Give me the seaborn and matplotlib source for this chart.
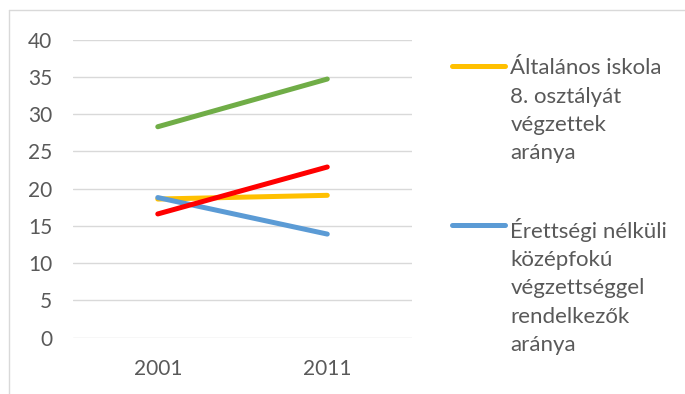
import matplotlib
matplotlib.use("Agg")
import matplotlib.pyplot as plt
from matplotlib.lines import Line2D
from matplotlib.offsetbox import HPacker
import seaborn as sns
import pandas as pd

# Years on the category axis
evek = ["2001", "2011"]

# Share of each educational group (%)
altalanos = [18.6, 19.1]
erettsegi_nelkuli = [18.8, 13.9]
zold_sor = [28.3, 34.7]
piros_sor = [16.6, 22.9]

sorozat_nevek = [
    "Általános iskola\n8. osztályát\nvégzettek\naránya",
    "Érettségi nélküli\nközépfokú\nvégzettséggel\nrendelkezők\naránya",
    "zold",
    "piros",
]
szinek = ["#FFC000", "#5B9BD5", "#70AD47", "#FF0000"]
y_tickek = [0, 5, 10, 15, 20, 25, 30, 35, 40]

sns.set_theme(style="white")
plt.rcParams["font.family"] = ["Lato", "DejaVu Sans"]

rows = []
for nev, ertekek in zip(sorozat_nevek, [altalanos, erettsegi_nelkuli, zold_sor, piros_sor]):
    for ev, v in zip(evek, ertekek):
        rows.append({"ev": ev, "ertek": v, "sorozat": nev})
df = pd.DataFrame(rows)

fig = plt.figure(figsize=(6.85, 3.94), dpi=100)
ax = fig.add_axes([0.1066, 0.1429, 0.4949, 0.7568])

sns.lineplot(data=df, x="ev", y="ertek", hue="sorozat", hue_order=sorozat_nevek,
             palette=szinek, linewidth=3.6, ax=ax, legend=False, sort=False)
for ln in ax.lines:
    ln.set_solid_capstyle("round")

ax.set_xlim(-0.5, 1.5)
ax.set_ylim(0, 40)
ax.set_yticks(y_tickek)
ax.set_yticklabels([str(t) for t in y_tickek])
ax.grid(axis="y", color="#D9D9D9", linewidth=1.0)
ax.set_axisbelow(True)
for s in ax.spines.values():
    s.set_visible(False)
ax.tick_params(axis="both", length=0, labelsize=15, colors="#595959")
ax.tick_params(axis="y", pad=15)
ax.tick_params(axis="x", pad=15)
ax.set_xlabel("")
ax.set_ylabel("")

# Legend lists only the first two series; handle sits at the first text line
handles = [Line2D([], [], color=szinek[i], linewidth=3.6, solid_capstyle="round") for i in range(2)]
leg = fig.legend(handles, sorozat_nevek[:2], loc="upper left",
                 bbox_to_anchor=(0.66, 0.852), frameon=False, fontsize=16,
                 handlelength=2.4, handletextpad=0.22, labelspacing=2.45,
                 labelcolor="#595959", borderaxespad=0, borderpad=0)
for t in leg.get_texts():
    t.set_linespacing(1.52)
for col in leg._legend_handle_box.get_children():
    for item in col.get_children():
        if isinstance(item, HPacker):
            item.align = "top"

# Chart area border (left and top edges)
fig.add_artist(Line2D([9 / 685, 9 / 685], [0, 1 - 10 / 394], transform=fig.transFigure,
                      color="#D9D9D9", linewidth=1.0))
fig.add_artist(Line2D([9 / 685, 1], [1 - 10 / 394, 1 - 10 / 394], transform=fig.transFigure,
                      color="#D9D9D9", linewidth=1.0))

fig.savefig("out.png", dpi=100)
